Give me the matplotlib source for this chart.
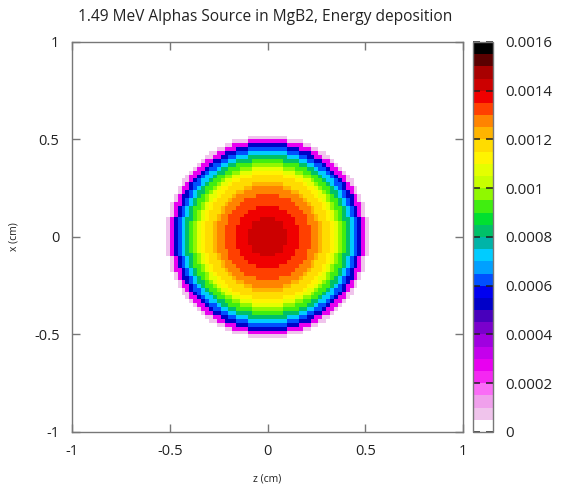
import numpy as np
import matplotlib
matplotlib.use("Agg")
import matplotlib.pyplot as plt
from matplotlib.colors import ListedColormap, BoundaryNorm

plt.rcParams['font.family'] = ['Open Sans', 'DejaVu Sans']

# Energy deposition vs. radius from the source axis, 0.02 cm radial bins
radial_bin_width = 0.02
radial_profile = [
    0.00143, 0.00142, 0.00142, 0.00141, 0.00140, 0.00139, 0.00137, 0.00135,
    0.00134, 0.00133, 0.00131, 0.00129, 0.00126, 0.00123, 0.00120, 0.00116,
    0.00112, 0.00106, 0.00099, 0.00091, 0.00081, 0.00071, 0.00061, 0.00050,
    0.00030, 0.00008,
]

# Tally mesh: 100 x 100 cells over [-1, 1] cm in z and x
z_edges = np.linspace(-1, 1, 101)
x_edges = np.linspace(-1, 1, 101)

# Discrete palette, 32 levels from 0 to 0.0016
palette = [
    '#ffffff', '#f0c4ec', '#f0a0ec', '#fa6cf6', '#f428f2', '#e800f0', '#c400ec', '#a000e0',
    '#7a00cc', '#4800bc', '#0000c8', '#0000f0', '#0050ff', '#00a0ff', '#00ccff', '#00b4a8',
    '#00c068', '#00e030', '#40ee10', '#90f800', '#c8ff00', '#e4ff00', '#fff400', '#ffdc00',
    '#ffb400', '#ff8400', '#ff4000', '#f00000', '#cc0000', '#a80000', '#5a0000', '#000000',
]
levels = np.linspace(0, 0.0016, 33)

zc = 0.5 * (z_edges[:-1] + z_edges[1:])
xc = 0.5 * (x_edges[:-1] + x_edges[1:])
Z, X = np.meshgrid(zc, xc)
R = np.hypot(Z, X)
idx = (R / radial_bin_width).astype(int)
prof = np.array(radial_profile)
dep = np.where(idx < len(prof), prof[np.clip(idx, 0, len(prof) - 1)], 0.0)

fig = plt.figure(figsize=(5.68, 4.91), dpi=100)
ax = fig.add_axes([0.1268, 0.1202, 0.6884, 0.7943])
cax = fig.add_axes([0.8327, 0.1202, 0.0352, 0.7943])

cmap = ListedColormap(palette)
norm = BoundaryNorm(levels, cmap.N)
mesh = ax.pcolormesh(z_edges, x_edges, dep, cmap=cmap, norm=norm, shading='flat')

frame_col = '#777777'
text_col = '#222222'
ax.set_xlim(-1, 1)
ax.set_ylim(-1, 1)
ax.set_xticks([-1, -0.5, 0, 0.5, 1])
ax.set_yticks([-1, -0.5, 0, 0.5, 1])
ax.set_xticklabels(['-1', '-0.5', '0', '0.5', '1'])
ax.set_yticklabels(['-1', '-0.5', '0', '0.5', '1'])
ax.tick_params(direction='in', length=6, width=1, color=frame_col, labelcolor=text_col,
               labelsize=10.5, pad=9, top=True, right=True)
for s in ax.spines.values():
    s.set_color(frame_col)
    s.set_linewidth(1.0)

fig.text(267.5 / 568, 1 - 479 / 491, 'z (cm)', ha='center', va='center',
         fontsize=7.5, color=text_col)
fig.text(14 / 568, 1 - 237 / 491, 'x (cm)', ha='center', va='center',
         rotation=90, fontsize=7.5, color=text_col)
fig.text(265 / 568, 1 - 17 / 491, '1.49 MeV Alphas Source in MgB2, Energy deposition',
         ha='center', va='center', fontsize=11.2, color=text_col)

cb = fig.colorbar(mesh, cax=cax, ticks=np.arange(0, 0.00161, 0.0002))
cb.ax.set_yticklabels(['0', '0.0002', '0.0004', '0.0006', '0.0008', '0.001',
                       '0.0012', '0.0014', '0.0016'])
cb.outline.set_edgecolor(frame_col)
cb.outline.set_linewidth(1.0)
cb.ax.tick_params(direction='in', length=5, width=1.1, color='#202020', labelcolor=text_col,
                  labelsize=10.8, pad=9, left=True, right=True)
cb.ax.minorticks_off()

fig.savefig('out.png', dpi=100, facecolor='white')
